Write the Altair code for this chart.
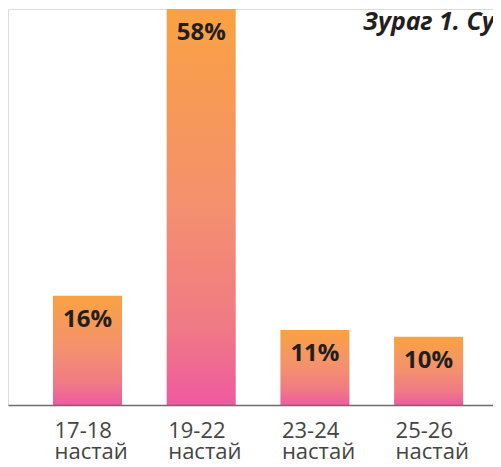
import altair as alt
import pandas as pd

categories = ["17-18 настай", "19-22 настай", "23-24 настай", "25-26 настай"]
values = [16, 58, 11, 10]
labels = ["16%", "58%", "11%", "10%"]
title_text = "Зураг 1. Су"

df = pd.DataFrame({"cat": categories, "val": values, "lab": labels})

grad = alt.Gradient(
    gradient="linear",
    stops=[
        alt.GradientStop(color="#F9A242", offset=0),
        alt.GradientStop(color="#F4906F", offset=0.5),
        alt.GradientStop(color="#F07A85", offset=0.8),
        alt.GradientStop(color="#EE5AA0", offset=1),
    ],
    x1=0, x2=0, y1=0, y2=1,
)

xscale = alt.Scale(paddingInner=0.393, paddingOuter=0.3293, align=0.601)
yscale = alt.Scale(domain=[0, 58], nice=False, zero=True)

base = alt.Chart(df)

bars = base.mark_bar(color=grad).encode(
    x=alt.X(
        "cat:N",
        sort=categories,
        scale=xscale,
        title=None,
        axis=alt.Axis(
            labelAlign="left",
            labelBaseline="alphabetic",
            labelAngle=0,
            labelOffset=-33,
            labelPadding=32,
            labelLineHeight=21,
            labelFont="Open Sans",
            labelFontSize=22,
            labelColor="#444444",
            labelExpr="split(datum.label, ' ')",
            ticks=False,
            domainColor="#6b6b6b",
            domainWidth=1.5,
            zindex=1,
        ),
    ),
    y=alt.Y("val:Q", scale=yscale, axis=None),
)

text = base.mark_text(
    font="Open Sans",
    fontSize=24,
    fontWeight="bold",
    color="#231F20",
    baseline="alphabetic",
    align="center",
    dy=31,
).encode(
    x=alt.X("cat:N", sort=categories, scale=xscale),
    y=alt.Y("val:Q", scale=yscale),
    text="lab:N",
)

title = alt.Chart(pd.DataFrame({"t": [title_text]})).mark_text(
    font="Open Sans",
    fontSize=25,
    fontWeight="bold",
    fontStyle="italic",
    color="#231F20",
    align="left",
    baseline="alphabetic",
).encode(
    x=alt.value(355),
    y=alt.value(21),
    text="t:N",
)

chart = (
    alt.layer(bars, text, title)
    .properties(
        width=485,
        height=396,
        autosize=alt.AutoSizeParams(type="none"),
        padding={"left": 0, "top": 1, "right": 0, "bottom": 54},
    )
    .configure_view(stroke=None)
    .configure(background="white")
)

chart.save("out.html", embed_options={"renderer": "svg", "actions": False})
